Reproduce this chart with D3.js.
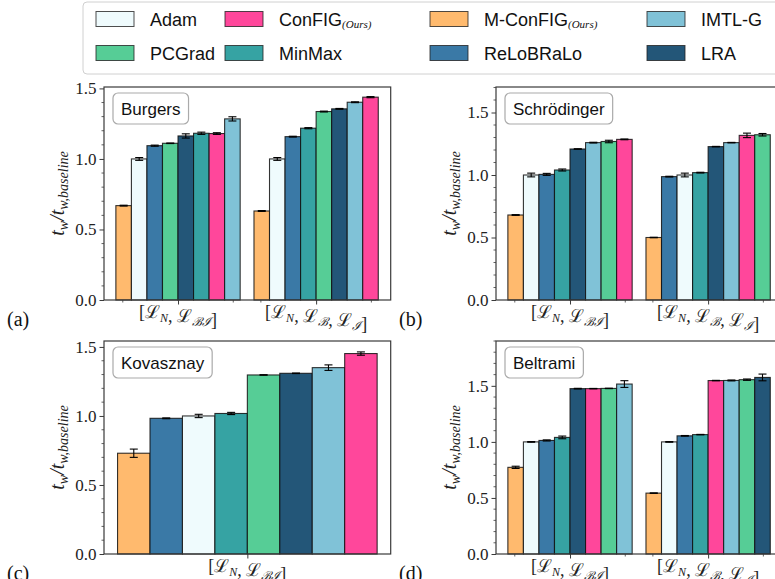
<!DOCTYPE html>
<html>
<head>
<meta charset="utf-8">
<script src="https://cdn.jsdelivr.net/npm/d3@7"></script>
<style>
  body { margin: 0; background: #fff; }
  svg { display: block; }
</style>
</head>
<body>
<svg id="chart" width="775" height="579"></svg>
<script>
  // methods and their colours (legend order)
  var methods = ['Adam', 'ConFIG', 'M-ConFIG', 'IMTL-G', 'PCGrad', 'MinMax', 'ReLoBRaLo', 'LRA'];
  var colors = {
    'Adam': '#effbfd',
    'ConFIG': '#ff479b',
    'M-ConFIG': '#ffba6e',
    'IMTL-G': '#80c2d7',
    'PCGrad': '#56cd96',
    'MinMax': '#36a3a3',
    'ReLoBRaLo': '#3a79a6',
    'LRA': '#235678'
  };
  var oursMethods = ['ConFIG', 'M-ConFIG'];

  // Burgers
  var burgersMethods = [
    ['M-ConFIG', 'Adam', 'ReLoBRaLo', 'PCGrad', 'LRA', 'MinMax', 'ConFIG', 'IMTL-G'],
    ['M-ConFIG', 'Adam', 'ReLoBRaLo', 'MinMax', 'PCGrad', 'LRA', 'IMTL-G', 'ConFIG']
  ];
  var burgersValues = [
    [0.669, 1.0, 1.094, 1.111, 1.163, 1.182, 1.180, 1.284],
    [0.631, 1.0, 1.158, 1.218, 1.336, 1.355, 1.402, 1.438]
  ];
  var burgersErrors = [
    [0.003, 0.01, 0.004, 0.002, 0.015, 0.008, 0.006, 0.015],
    [0.003, 0.01, 0.003, 0.004, 0.003, 0.003, 0.003, 0.004]
  ];

  // Schrodinger
  var schroMethods = [
    ['M-ConFIG', 'Adam', 'ReLoBRaLo', 'MinMax', 'LRA', 'IMTL-G', 'PCGrad', 'ConFIG'],
    ['M-ConFIG', 'ReLoBRaLo', 'Adam', 'MinMax', 'LRA', 'IMTL-G', 'ConFIG', 'PCGrad']
  ];
  var schroValues = [
    [0.680, 1.0, 1.005, 1.040, 1.208, 1.259, 1.268, 1.285],
    [0.500, 0.987, 1.0, 1.019, 1.227, 1.259, 1.317, 1.322]
  ];
  var schroErrors = [
    [0.003, 0.015, 0.008, 0.008, 0.002, 0.003, 0.01, 0.003],
    [0.002, 0.003, 0.015, 0.003, 0.002, 0.002, 0.018, 0.01]
  ];

  // Kovasznay
  var kovaMethods = [
    ['M-ConFIG', 'ReLoBRaLo', 'Adam', 'MinMax', 'PCGrad', 'LRA', 'IMTL-G', 'ConFIG']
  ];
  var kovaValues = [
    [0.730, 0.983, 1.0, 1.018, 1.297, 1.309, 1.350, 1.452]
  ];
  var kovaErrors = [
    [0.03, 0.003, 0.012, 0.008, 0.002, 0.002, 0.02, 0.012]
  ];

  // Beltrami
  var beltMethods = [
    ['M-ConFIG', 'Adam', 'ReLoBRaLo', 'MinMax', 'LRA', 'ConFIG', 'PCGrad', 'IMTL-G'],
    ['M-ConFIG', 'Adam', 'ReLoBRaLo', 'MinMax', 'ConFIG', 'IMTL-G', 'PCGrad', 'LRA']
  ];
  var beltValues = [
    [0.773, 1.0, 1.013, 1.040, 1.475, 1.475, 1.477, 1.516],
    [0.543, 1.0, 1.054, 1.065, 1.547, 1.548, 1.555, 1.575]
  ];
  var beltErrors = [
    [0.01, 0.003, 0.005, 0.012, 0.003, 0.002, 0.002, 0.03],
    [0.002, 0.003, 0.003, 0.002, 0.002, 0.004, 0.006, 0.03]
  ];

  var groupLabels = [
    [{t: '[\u2112', s: 'N'}, {t: ', \u2112', s: '\u212C\u2110'}, {t: ']'}],
    [{t: '[\u2112', s: 'N'}, {t: ', \u2112', s: '\u212C'}, {t: ', \u2112', s: '\u2110'}, {t: ']'}]
  ];
  var yTicks = [0, 0.5, 1.0, 1.5];

  var panels = [
    {letter: '(a)', name: 'Burgers', methods: burgersMethods, values: burgersValues, errors: burgersErrors,
      left: 104, right: 390.7, top: 87, bottom: 300, ymax: 1.51, xlim: [-0.536, 1.54]},
    {letter: '(b)', name: 'Schrödinger', methods: schroMethods, values: schroValues, errors: schroErrors,
      left: 496, right: 782.7, top: 87, bottom: 300, ymax: 1.704, xlim: [-0.536, 1.54]},
    {letter: '(c)', name: 'Kovasznay', methods: kovaMethods, values: kovaValues, errors: kovaErrors,
      left: 104, right: 390.7, top: 341, bottom: 554, ymax: 1.543, xlim: [-0.497, 0.497]},
    {letter: '(d)', name: 'Beltrami', methods: beltMethods, values: beltValues, errors: beltErrors,
      left: 496, right: 782.7, top: 341, bottom: 554, ymax: 1.90, xlim: [-0.536, 1.54]}
  ];

  var svg = d3.select('#chart'),
    serif = '"Liberation Serif", "DejaVu Serif", serif',
    sans = '"Liberation Sans", "DejaVu Sans", sans-serif',
    barW = 0.1125,
    spine = '#3a3a3a';

  function drawPanel(p) {
    var g = svg.append('g'),
      x = d3.scaleLinear().domain(p.xlim).range([p.left, p.right]),
      y = d3.scaleLinear().domain([0, p.ymax]).range([p.bottom, p.top]),
      nGroups = p.values.length,
      bars = [];

    p.values.forEach(function (vals, gi) {
      vals.forEach(function (v, i) {
        bars.push({x: gi + (i - 3.5) * barW, v: v, e: p.errors[gi][i], m: p.methods[gi][i]});
      });
    });

    // bars
    g.selectAll('rect.bar').data(bars).enter().append('rect')
      .attr('class', 'bar')
      .attr('x', function (d) { return x(d.x - barW / 2); })
      .attr('y', function (d) { return y(d.v); })
      .attr('width', function (d) { return x(d.x + barW / 2) - x(d.x - barW / 2); })
      .attr('height', function (d) { return y(0) - y(d.v); })
      .attr('fill', function (d) { return colors[d.m]; })
      .attr('stroke', '#111')
      .attr('stroke-opacity', 0.85)
      .attr('stroke-width', 1.1);

    // error bars
    var eb = g.selectAll('g.err').data(bars).enter().append('g').attr('class', 'err')
      .attr('stroke', '#000').attr('stroke-width', 1.1);
    eb.append('line')
      .attr('x1', function (d) { return x(d.x); })
      .attr('x2', function (d) { return x(d.x); })
      .attr('y1', function (d) { return y(d.v - d.e); })
      .attr('y2', function (d) { return y(d.v + d.e); });
    [-1, 1].forEach(function (s) {
      eb.append('line')
        .attr('x1', function (d) { return x(d.x) - 4; })
        .attr('x2', function (d) { return x(d.x) + 4; })
        .attr('y1', function (d) { return y(d.v + s * d.e); })
        .attr('y2', function (d) { return y(d.v + s * d.e); });
    });

    // y axis
    var yAxis = g.append('g').attr('transform', 'translate(' + p.left + ',0)')
      .call(d3.axisLeft(y).tickValues(yTicks).tickSize(4.5).tickPadding(3)
        .tickFormat(d3.format('.1f')));
    yAxis.select('.domain').remove();
    yAxis.attr('font-family', null).attr('font-size', null);
    yAxis.selectAll('.tick line').attr('stroke', spine);
    yAxis.selectAll('.tick text')
      .style('font-family', serif).style('font-size', '17px').attr('fill', '#222');
    var minorY = d3.range(0, p.ymax + 1e-9, 0.1).filter(function (v) {
      return Math.abs(v * 2 - Math.round(v * 2)) > 1e-6;
    });
    g.append('g').selectAll('line').data(minorY).enter().append('line')
      .attr('x1', p.left - 2.5).attr('x2', p.left)
      .attr('y1', function (d) { return y(d); }).attr('y2', function (d) { return y(d); })
      .attr('stroke', spine).attr('stroke-width', 0.8);

    // x ticks
    var groups = d3.range(nGroups);
    var xAxis = g.append('g').attr('transform', 'translate(0,' + p.bottom + ')')
      .call(d3.axisBottom(x).tickValues(groups).tickSize(4.5).tickFormat(''));
    xAxis.select('.domain').remove();
    xAxis.selectAll('.tick line').attr('stroke', spine);
    if (nGroups > 1) {
      var minorX = [];
      groups.forEach(function (c) { minorX.push(c - 0.4, c + 0.4); });
      g.append('g').selectAll('line').data(minorX).enter().append('line')
        .attr('x1', function (d) { return x(d); }).attr('x2', function (d) { return x(d); })
        .attr('y1', p.bottom).attr('y2', p.bottom + 2.5)
        .attr('stroke', spine).attr('stroke-width', 0.8);
    }

    // group labels
    groups.forEach(function (c) {
      var parts = groupLabels[nGroups > 1 ? c : 0],
        t = g.append('text')
          .attr('x', x(c)).attr('y', p.bottom + 18)
          .attr('text-anchor', 'middle')
          .style('font-family', serif).style('font-size', '18px').attr('fill', '#222');
      parts.forEach(function (pt) {
        t.append('tspan').text(pt.t);
        if (pt.s) {
          t.append('tspan').attr('dy', 4).style('font-size', '12px').style('font-style', 'italic').text(pt.s);
          t.append('tspan').attr('dy', -4).text('');
        }
      });
    });

    // spines
    g.append('rect')
      .attr('x', p.left).attr('y', p.top)
      .attr('width', p.right - p.left).attr('height', p.bottom - p.top)
      .attr('fill', 'none').attr('stroke', spine).attr('stroke-width', 1.2);

    // y label
    var yl = g.append('text')
      .attr('transform', 'translate(' + (p.left - 40) + ',' + ((p.top + p.bottom) / 2) + ') rotate(-90)')
      .attr('text-anchor', 'middle')
      .style('font-family', serif).style('font-style', 'italic').style('font-size', '20px').attr('fill', '#222');
    yl.append('tspan').text('t');
    yl.append('tspan').attr('dy', 4).style('font-size', '14px').text('w');
    yl.append('tspan').attr('dy', -4).text('/t');
    yl.append('tspan').attr('dy', 4).style('font-size', '14px').text('w,baseline');

    // panel letter
    g.append('text')
      .attr('x', p.left - 97).attr('y', p.bottom + 26)
      .style('font-family', serif).style('font-size', '20px').attr('fill', '#111')
      .text(p.letter);

    // name box
    var nb = g.append('g').attr('transform', 'translate(' + (p.left + 9) + ',' + (p.top + 6) + ')'),
      box = nb.append('rect').attr('rx', 5).attr('ry', 5)
        .attr('fill', '#fff').attr('stroke', '#aaa').attr('stroke-width', 1.2),
      txt = nb.append('text')
        .attr('y', 22).style('font-family', sans).style('font-size', '17px').attr('fill', '#111')
        .text(p.name),
      w = txt.node().getComputedTextLength();
    txt.attr('x', 8);
    box.attr('width', w + 16).attr('height', 31);
  }

  panels.forEach(drawPanel);

  // legend
  var legend = svg.append('g');
  legend.append('rect')
    .attr('x', 83).attr('y', 2).attr('width', 700).attr('height', 72)
    .attr('rx', 4).attr('ry', 4)
    .attr('fill', '#fff').attr('stroke', '#d0d0d0').attr('stroke-width', 1);
  var colX = [96, 225, 430, 647],
    rowY = [19, 53];
  methods.forEach(function (m, i) {
    var cx = colX[i % 4], cy = rowY[Math.floor(i / 4)],
      item = legend.append('g');
    item.append('rect')
      .attr('x', cx).attr('y', cy - 7.5).attr('width', 38).attr('height', 15)
      .attr('fill', colors[m]).attr('stroke', '#222').attr('stroke-opacity', 0.8).attr('stroke-width', 1);
    var t = item.append('text')
      .attr('x', cx + 54).attr('y', cy + 6.5)
      .style('font-family', sans).style('font-size', '18px').attr('fill', '#111')
      .text(m);
    if (oursMethods.indexOf(m) >= 0) {
      t.append('tspan').attr('dy', 2).style('font-family', serif).style('font-style', 'italic')
        .style('font-size', '11px').text('(Ours)');
    }
  });
</script>
</body>
</html>
